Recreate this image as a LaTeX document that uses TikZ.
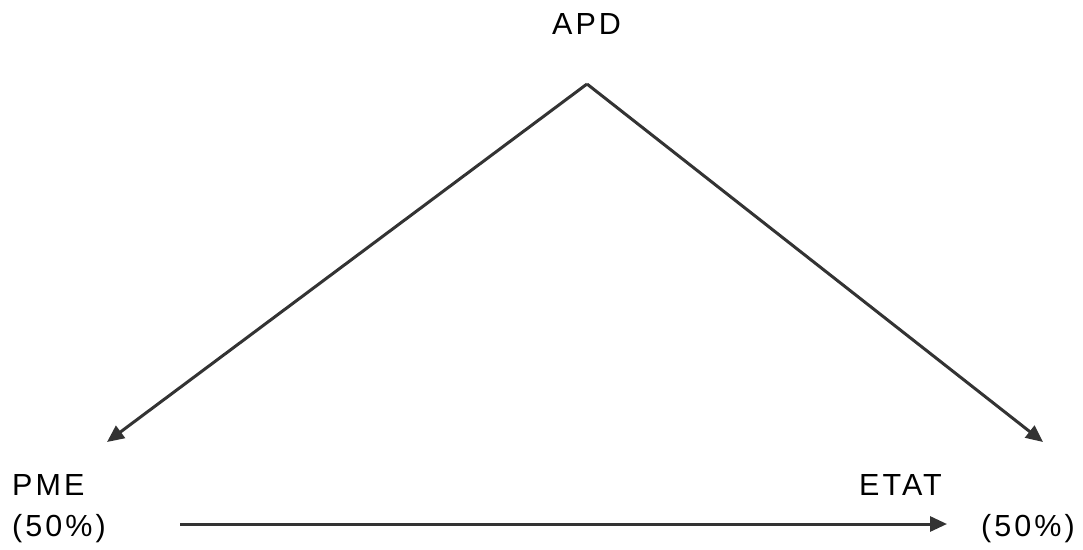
\documentclass[tikz,border=0pt]{standalone}
\usepackage{fontspec}
\setmainfont[LetterSpace=10]{Liberation Sans}
\usetikzlibrary{arrows.meta}
\definecolor{ink}{HTML}{333333}
\tikzset{
  lbl/.style={anchor=base west,inner sep=0pt,font=\fontsize{30.5}{35}\selectfont,text=black},
  conn/.style={draw=ink,line width=3pt,-{Triangle[length=17pt,width=15pt]}}
}
\begin{document}
\begin{tikzpicture}[x=1pt,y=-1pt]
\useasboundingbox (0,0) rectangle (1083,549);
\node[lbl] (apd) at (552,34) {APD};
\node[lbl] (pme) at (12,495) {PME};
\node[lbl] (pmep) at (12,536) {(50\%)};
\node[lbl] (etat) at (859,495) {ETAT};
\node[lbl] (etatp) at (981,536) {(50\%)};
\coordinate (top) at (587,84);
\coordinate (lt) at (107,442);
\coordinate (rt) at (1043,442);
\coordinate (bs) at (180,524);
\coordinate (be) at (947,524);
\draw[conn] (top) -- (lt);
\draw[conn] (top) -- (rt);
\draw[conn] (bs) -- (be);
\end{tikzpicture}
\end{document}
